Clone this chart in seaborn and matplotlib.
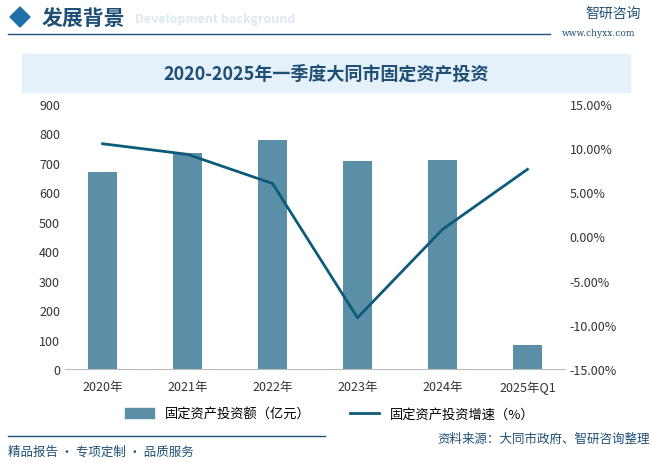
import matplotlib
matplotlib.use("Agg")
import matplotlib.pyplot as plt
import seaborn as sns
import pandas as pd
from matplotlib.patches import Rectangle, Polygon
from matplotlib.lines import Line2D
from matplotlib.ticker import FuncFormatter

plt.rcParams["font.family"] = "Noto Sans CJK SC"

years = ["2020年", "2021年", "2022年", "2023年", "2024年", "2025年Q1"]
amount = [670, 732, 778, 705, 710, 80]
growth = [10.5, 9.3, 6.0, -9.2, 0.8, 7.6]

df = pd.DataFrame({"year": years, "amount": amount, "growth": growth})
bar_c = "#5b8fa8"
line_c = "#0d5a7a"
dark = "#1f4f75"

fig = plt.figure(figsize=(6.55, 4.64), dpi=100)
W, H = 655, 464
def fx(x): return x / W
def fy(y): return 1 - y / H

# header
fig.patches.append(Polygon([[fx(10), fy(18)], [fx(20), fy(8)], [fx(30), fy(18)], [fx(20), fy(28)]],
                           closed=True, transform=fig.transFigure, color="#1f6fa8"))
fig.text(fx(42), fy(18), "发展背景", fontsize=15, color=dark, va="center", weight="bold")
fig.text(fx(135), fy(20), "Development background", fontsize=9, color="#dde8f2", va="center", weight="bold", zorder=0)
fig.lines.append(Line2D([fx(8), fx(550)], [fy(35), fy(35)], transform=fig.transFigure, color=dark, lw=1))
fig.text(fx(585), fy(14), "智研咨询", fontsize=10, color=dark, va="center")
fig.text(fx(562), fy(34), "www.chyxx.com", fontsize=6.5, color=dark, va="center", family="DejaVu Serif")
fig.patches.append(Rectangle((fx(22), fy(93)), fx(608), 38 / H, transform=fig.transFigure, color="#e4f1fa"))
fig.text(fx(326), fy(74), "2020-2025年一季度大同市固定资产投资", fontsize=13, color=dark, ha="center", va="center", weight="bold")

ax = fig.add_axes([fx(65), fy(370), fx(500), 265 / H])
sns.barplot(data=df, x="year", y="amount", color=bar_c, saturation=1, width=0.35, ax=ax)
ax.set_ylim(0, 900)
ax.set_yticks(range(0, 901, 100))
ax.set_xlabel(""); ax.set_ylabel("")
for s in ["top", "right", "left"]:
    ax.spines[s].set_visible(False)
ax.spines["bottom"].set_color("#bbbbbb")
ax.tick_params(length=0, labelsize=9, colors="#333333")
ax.tick_params(axis="x", pad=8)

ax2 = ax.twinx()
sns.lineplot(x=list(range(len(years))), y=growth, color=line_c, lw=2, ax=ax2)
ax2.set_ylim(-15, 15)
ax2.set_yticks(range(-15, 16, 5))
ax2.yaxis.set_major_formatter(FuncFormatter(lambda v, p: f"{v:.2f}%"))
for s in ax2.spines.values():
    s.set_visible(False)
ax2.tick_params(length=0, labelsize=9, colors="#333333")

handles = [Rectangle((0, 0), 1, 1, color=bar_c), Line2D([0], [0], color=line_c, lw=2)]
fig.legend(handles, ["固定资产投资额（亿元）", "固定资产投资增速（%）"], loc="center",
           bbox_to_anchor=(fx(330), fy(415)), ncol=2, frameon=False, fontsize=9.5,
           handlelength=2.2, columnspacing=3)

fig.lines.append(Line2D([fx(8), fx(325)], [fy(437), fy(437)], transform=fig.transFigure, color=dark, lw=1))
fig.text(fx(8), fy(452), "精品报告 · 专项定制 · 品质服务", fontsize=9, color=dark, va="center")
fig.text(fx(650), fy(439), "资料来源：大同市政府、智研咨询整理", fontsize=9, color=dark, va="center", ha="right")

fig.savefig("out.png", dpi=100)
